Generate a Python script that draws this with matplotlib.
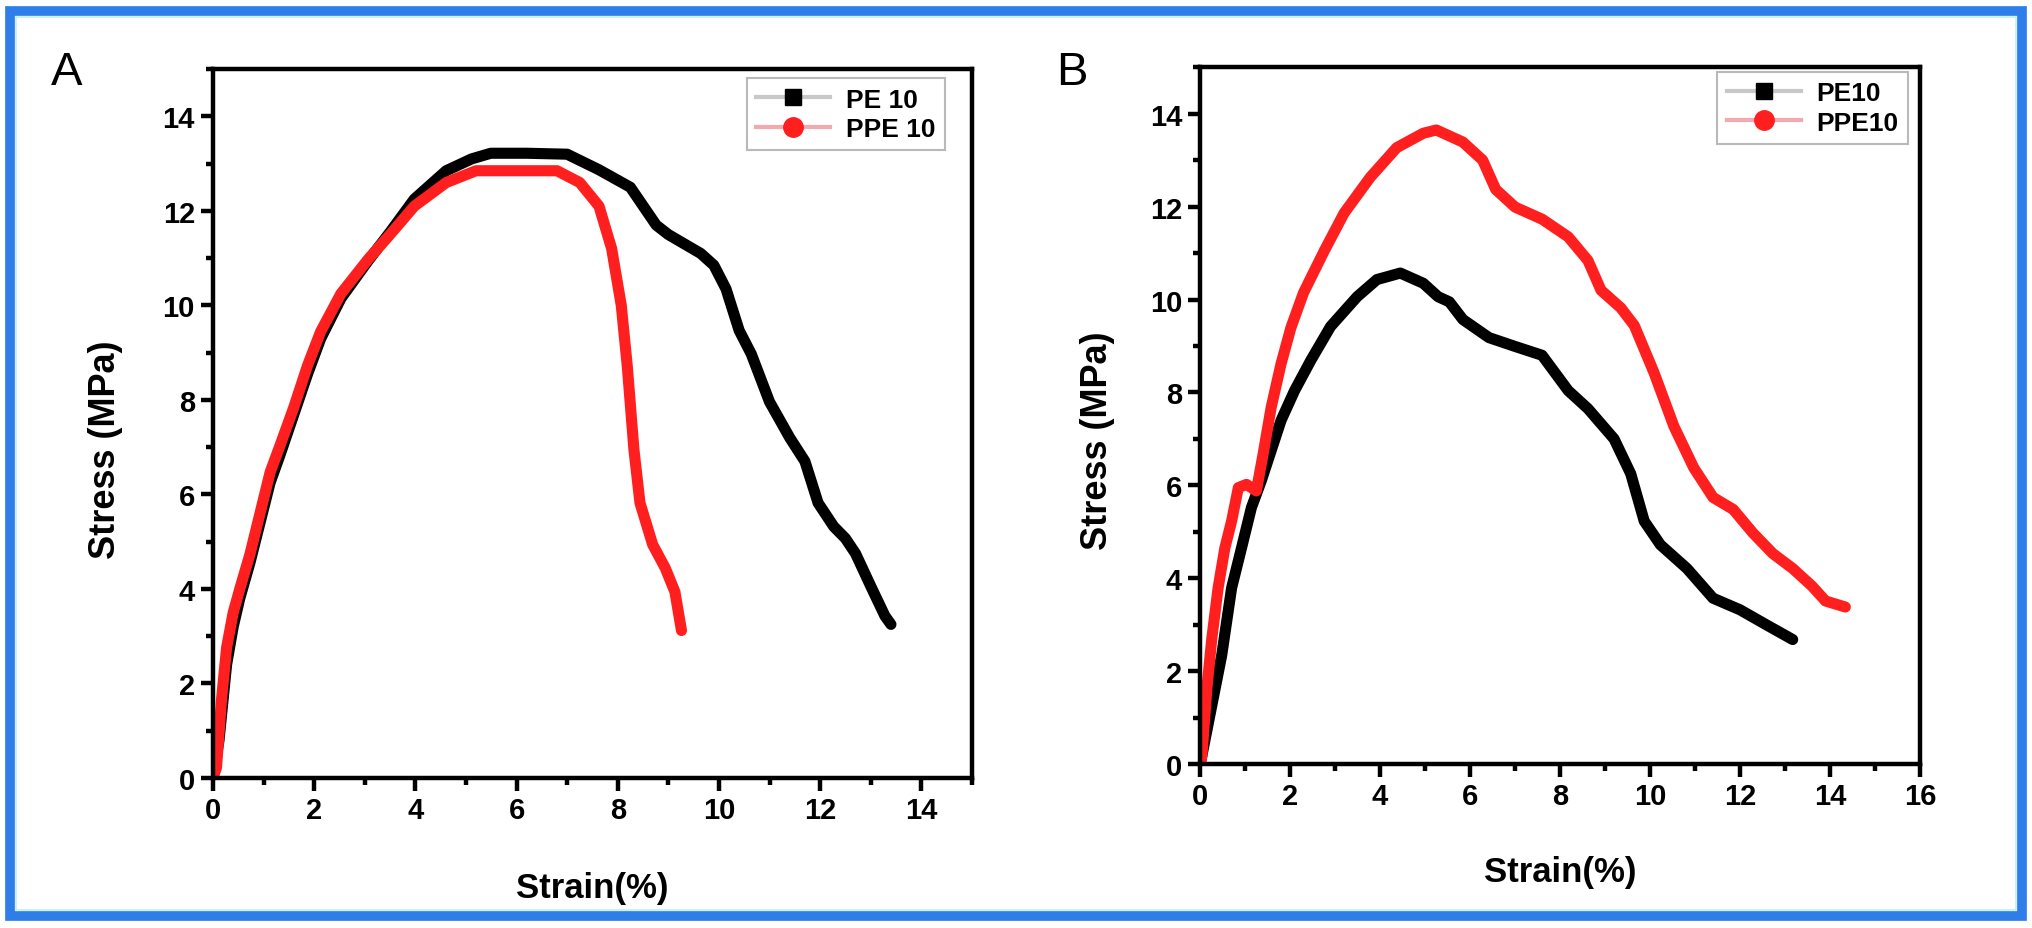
import matplotlib
matplotlib.use("Agg")
import matplotlib.pyplot as plt
from matplotlib.lines import Line2D
from matplotlib.patches import Rectangle
from matplotlib.ticker import MultipleLocator

plt.rcParams['font.family'] = ['Liberation Sans', 'DejaVu Sans']

# panel A: strain (%) vs stress (MPa)
a_pe_strain = [0.0, 0.12, 0.27, 0.4, 0.53, 0.73, 0.93, 1.13, 1.33, 1.6, 1.87, 2.13,
               2.53, 3.07, 3.5, 3.98, 4.61, 5.11, 5.49, 6.2, 7.0, 7.63, 8.25, 8.76,
               9.0, 9.64, 9.9, 10.14, 10.4, 10.64, 11.0, 11.4, 11.7, 11.96, 12.27,
               12.5, 12.7, 13.0, 13.28, 13.4]
a_pe_stress = [0.0, 0.8, 2.4, 3.2, 3.8, 4.55, 5.4, 6.25, 6.85, 7.7, 8.55, 9.3,
               10.15, 10.95, 11.55, 12.25, 12.85, 13.1, 13.22, 13.22, 13.2, 12.87, 12.5, 11.7,
               11.5, 11.1, 10.85, 10.35, 9.47, 8.97, 7.96, 7.2, 6.7, 5.82, 5.32,
               5.07, 4.75, 4.06, 3.43, 3.25]
a_ppe_strain = [0.0, 0.07, 0.17, 0.27, 0.4, 0.53, 0.73, 0.93, 1.13, 1.33, 1.6, 1.87,
                2.13, 2.53, 3.07, 3.5, 3.98, 4.61, 5.2, 6.0, 6.8, 7.25, 7.63, 7.88,
                8.07, 8.19, 8.32, 8.44, 8.69, 8.94, 9.13, 9.26]
a_ppe_stress = [0.0, 0.22, 1.67, 2.76, 3.5, 4.0, 4.73, 5.6, 6.47, 7.05, 7.85, 8.73,
                9.45, 10.25, 10.98, 11.5, 12.1, 12.6, 12.85, 12.85, 12.85, 12.6, 12.1, 11.2,
                10.0, 8.7, 6.95, 5.82, 4.94, 4.44, 3.94, 3.12]

# panel B
b_pe_strain = [0.0, 0.04, 0.26, 0.48, 0.7, 0.92, 1.14, 1.36, 1.58, 1.8, 2.1, 2.46,
               2.9, 3.49, 3.93, 4.45, 4.96, 5.29, 5.54, 5.84, 6.42, 7.0, 7.6, 8.18,
               8.62, 9.2, 9.57, 9.87, 10.23, 10.82, 11.4, 12.0, 12.58, 13.17]
b_pe_stress = [0.0, 0.18, 1.26, 2.34, 3.79, 4.65, 5.52, 6.1, 6.75, 7.4, 8.04, 8.69,
               9.42, 10.06, 10.43, 10.57, 10.35, 10.06, 9.95, 9.57, 9.18, 8.99, 8.8, 8.04,
               7.65, 7.0, 6.25, 5.23, 4.72, 4.21, 3.57, 3.32, 3.0, 2.68]
b_ppe_strain = [0.0, 0.04, 0.15, 0.26, 0.4, 0.55, 0.7, 0.85, 1.03, 1.25, 1.4, 1.58,
                1.8, 2.02, 2.3, 2.76, 3.2, 3.78, 4.37, 4.96, 5.25, 5.84, 6.28, 6.57,
                7.0, 7.6, 8.18, 8.62, 8.91, 9.35, 9.65, 10.09, 10.53, 10.97, 11.4,
                11.85, 12.29, 12.73, 13.17, 13.6, 13.9, 14.34]
b_ppe_stress = [0.0, 0.18, 1.62, 2.7, 3.79, 4.65, 5.23, 5.95, 6.02, 5.88, 6.67, 7.68,
                8.62, 9.4, 10.15, 11.05, 11.86, 12.63, 13.27, 13.58, 13.65, 13.39, 13.0, 12.37,
                11.99, 11.73, 11.35, 10.84, 10.2, 9.82, 9.44, 8.42, 7.27, 6.38, 5.74,
                5.48, 4.97, 4.53, 4.21, 3.83, 3.51, 3.38]

a_labels = ['PE 10', 'PPE 10']
b_labels = ['PE10', 'PPE10']

BLACK = '#000000'
RED = '#ff1f1f'


def style_axes(ax, xmax):
    ax.set_xlim(0, xmax)
    ax.set_ylim(0, 15)
    ax.xaxis.set_minor_locator(MultipleLocator(1))
    ax.yaxis.set_minor_locator(MultipleLocator(1))
    last = 16 if xmax == 16 else 14
    ax.set_xticks(range(0, last + 1, 2))
    ax.set_yticks(range(0, 15, 2))
    for s in ax.spines.values():
        s.set_linewidth(3.2)
    ax.tick_params(which='major', direction='out', length=9, width=3.2,
                   labelsize=21, pad=4, top=False, right=False)
    ax.tick_params(which='minor', direction='out', length=5, width=3.2,
                   top=False, right=False)
    for lab in ax.get_xticklabels() + ax.get_yticklabels():
        lab.set_fontweight('bold')
    ax.set_xlabel('Strain(%)', fontsize=25, fontweight='bold')
    ax.set_ylabel('Stress (MPa)', fontsize=26, fontweight='bold')
    ax.xaxis.set_label_coords(0.5, -0.131)
    ax.yaxis.set_label_coords(-0.118, 0.465)


def add_legend(ax, labels, anchor):
    handles = [
        Line2D([], [], color='#c8c8c8', lw=3, marker='s', ms=12,
               mfc=BLACK, mec=BLACK),
        Line2D([], [], color='#f3a9b0', lw=3, marker='o', ms=14,
               mfc=RED, mec=RED),
    ]
    leg = ax.legend(handles, labels, loc='upper right', bbox_to_anchor=anchor,
                    borderaxespad=0, fancybox=False, frameon=True,
                    edgecolor='#a8a8a8', handlelength=2.8, handletextpad=0.6,
                    borderpad=0.35, labelspacing=0.2,
                    prop={'weight': 'bold', 'size': 19})
    leg.get_frame().set_linewidth(1.5)


fig = plt.figure(figsize=(20.32, 9.29), dpi=100)
axA = fig.add_axes([0.1048, 0.1615, 0.3735, 0.763])
axB = fig.add_axes([0.5906, 0.1765, 0.3543, 0.750])

line_kw = dict(lw=8, solid_capstyle='round', solid_joinstyle='round')
axA.plot(a_pe_strain, a_pe_stress, color=BLACK, **line_kw)
axA.plot(a_ppe_strain, a_ppe_stress, color=RED, **line_kw)
style_axes(axA, 15)
add_legend(axA, a_labels, (0.964, 0.987))

axB.plot(b_pe_strain, b_pe_stress, color=BLACK, **line_kw)
axB.plot(b_ppe_strain, b_ppe_stress, color=RED, **line_kw)
style_axes(axB, 16)
add_legend(axB, b_labels, (0.983, 0.993))

fig.text(67 / 2032, 1 - 73 / 929, 'A', fontsize=34, ha='center', va='center')
fig.text(1072 / 2032, 1 - 73 / 929, 'B', fontsize=34, ha='center', va='center')

# blue frame round the whole figure
fig.patches.append(Rectangle((10 / 2032, 12 / 929), 2012 / 2032, 905 / 929,
                             transform=fig.transFigure, fill=False,
                             edgecolor='#2f7de9', linewidth=7))
fig.patches.append(Rectangle((16 / 2032, 18 / 929), 2000 / 2032, 893 / 929,
                             transform=fig.transFigure, fill=False,
                             edgecolor='#bff0f0', linewidth=1.2))

fig.savefig('out.png', dpi=100)
